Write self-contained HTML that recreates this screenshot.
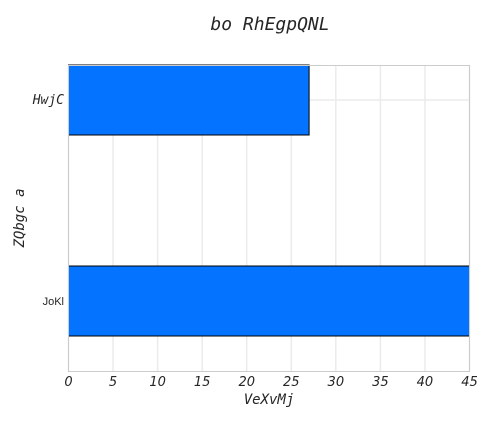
<!DOCTYPE html>
<html><head><meta charset="utf-8"><style>
body{margin:0;background:#fff;}
svg text{fill:#262626;}
</style></head><body>
<svg id="chart" width="490" height="420" xmlns="http://www.w3.org/2000/svg">
<text x="270" y="30" text-anchor="middle" font-family="'DejaVu Sans Mono',monospace" font-style="italic" font-size="18">bo RhEgpQNL</text>
<g id="grid"></g>
<g id="bars"></g>
<rect x="68.5" y="65.5" width="401" height="306" fill="none" stroke="#cccccc"/>
<g id="xticks"></g>
<g id="yticks"></g>
<text x="269" y="404" text-anchor="middle" font-family="'DejaVu Sans Mono',monospace" font-style="italic" font-size="14">VeXvMj</text>
<text transform="translate(24,218) rotate(-90)" text-anchor="middle" font-family="'DejaVu Sans Mono',monospace" font-style="italic" font-size="14">ZQbgc a</text>
</svg>
<script>
const categories = ["HwjC", "JoKl"];
const values = [27, 45];
const xTicks = [0, 5, 10, 15, 20, 25, 30, 35, 40, 45];
const NS = "http://www.w3.org/2000/svg";
const x0 = 68.5, x1 = 469.5, xMax = 45;
const xs = v => x0 + v / xMax * (x1 - x0);
const ys = i => 100 + i * 201;
const bh = 70;
const grid = document.getElementById('grid'), bars = document.getElementById('bars');
const xt = document.getElementById('xticks'), yt = document.getElementById('yticks');
xTicks.forEach(t => {
  const l = document.createElementNS(NS, 'line');
  
  
  l.setAttribute('x1', xs(t)); l.setAttribute('x2', xs(t));
  l.setAttribute('y1', 65); l.setAttribute('y2', 371);
  l.setAttribute('stroke', '#ebebeb'); l.setAttribute('stroke-width', '1.5');
  grid.appendChild(l);
  const tx = document.createElementNS(NS, 'text');
  
  
  tx.setAttribute('x', xs(t)); tx.setAttribute('y', 386);
  tx.setAttribute('text-anchor', 'middle');
  tx.setAttribute('font-family', "'DejaVu Sans',sans-serif");
  tx.setAttribute('font-style', 'italic'); tx.setAttribute('font-size', '13');
  tx.textContent = t;
  xt.appendChild(tx);
});
categories.forEach((c, i) => {
  const l = document.createElementNS(NS, 'line');
  
  
  l.setAttribute('x1', 68); l.setAttribute('x2', 469);
  l.setAttribute('y1', ys(i)); l.setAttribute('y2', ys(i));
  l.setAttribute('stroke', '#ebebeb'); l.setAttribute('stroke-width', '1.5');
  grid.appendChild(l);
  const r = document.createElementNS(NS, 'rect');
  
  
  r.setAttribute('x', x0); r.setAttribute('y', ys(i) - bh / 2);
  r.setAttribute('width', xs(values[i]) - x0); r.setAttribute('height', bh);
  r.setAttribute('fill', '#0473ff'); r.setAttribute('stroke', '#000'); r.setAttribute('stroke-width', '1');
  bars.appendChild(r);
  const tx = document.createElementNS(NS, 'text');
  
  
  tx.setAttribute('x', 64); tx.setAttribute('text-anchor', 'end');
  if (i === 0) {
    tx.setAttribute('y', ys(i) + 4);
    tx.setAttribute('font-family', "'DejaVu Sans Mono',monospace");
    tx.setAttribute('font-style', 'italic'); tx.setAttribute('font-size', '13');
  } else {
    tx.setAttribute('y', ys(i) + 4);
    tx.setAttribute('font-family', "'Liberation Sans',sans-serif");
    tx.setAttribute('font-size', '11');
  }
  tx.textContent = c;
  yt.appendChild(tx);
});
</script>
</body></html>
